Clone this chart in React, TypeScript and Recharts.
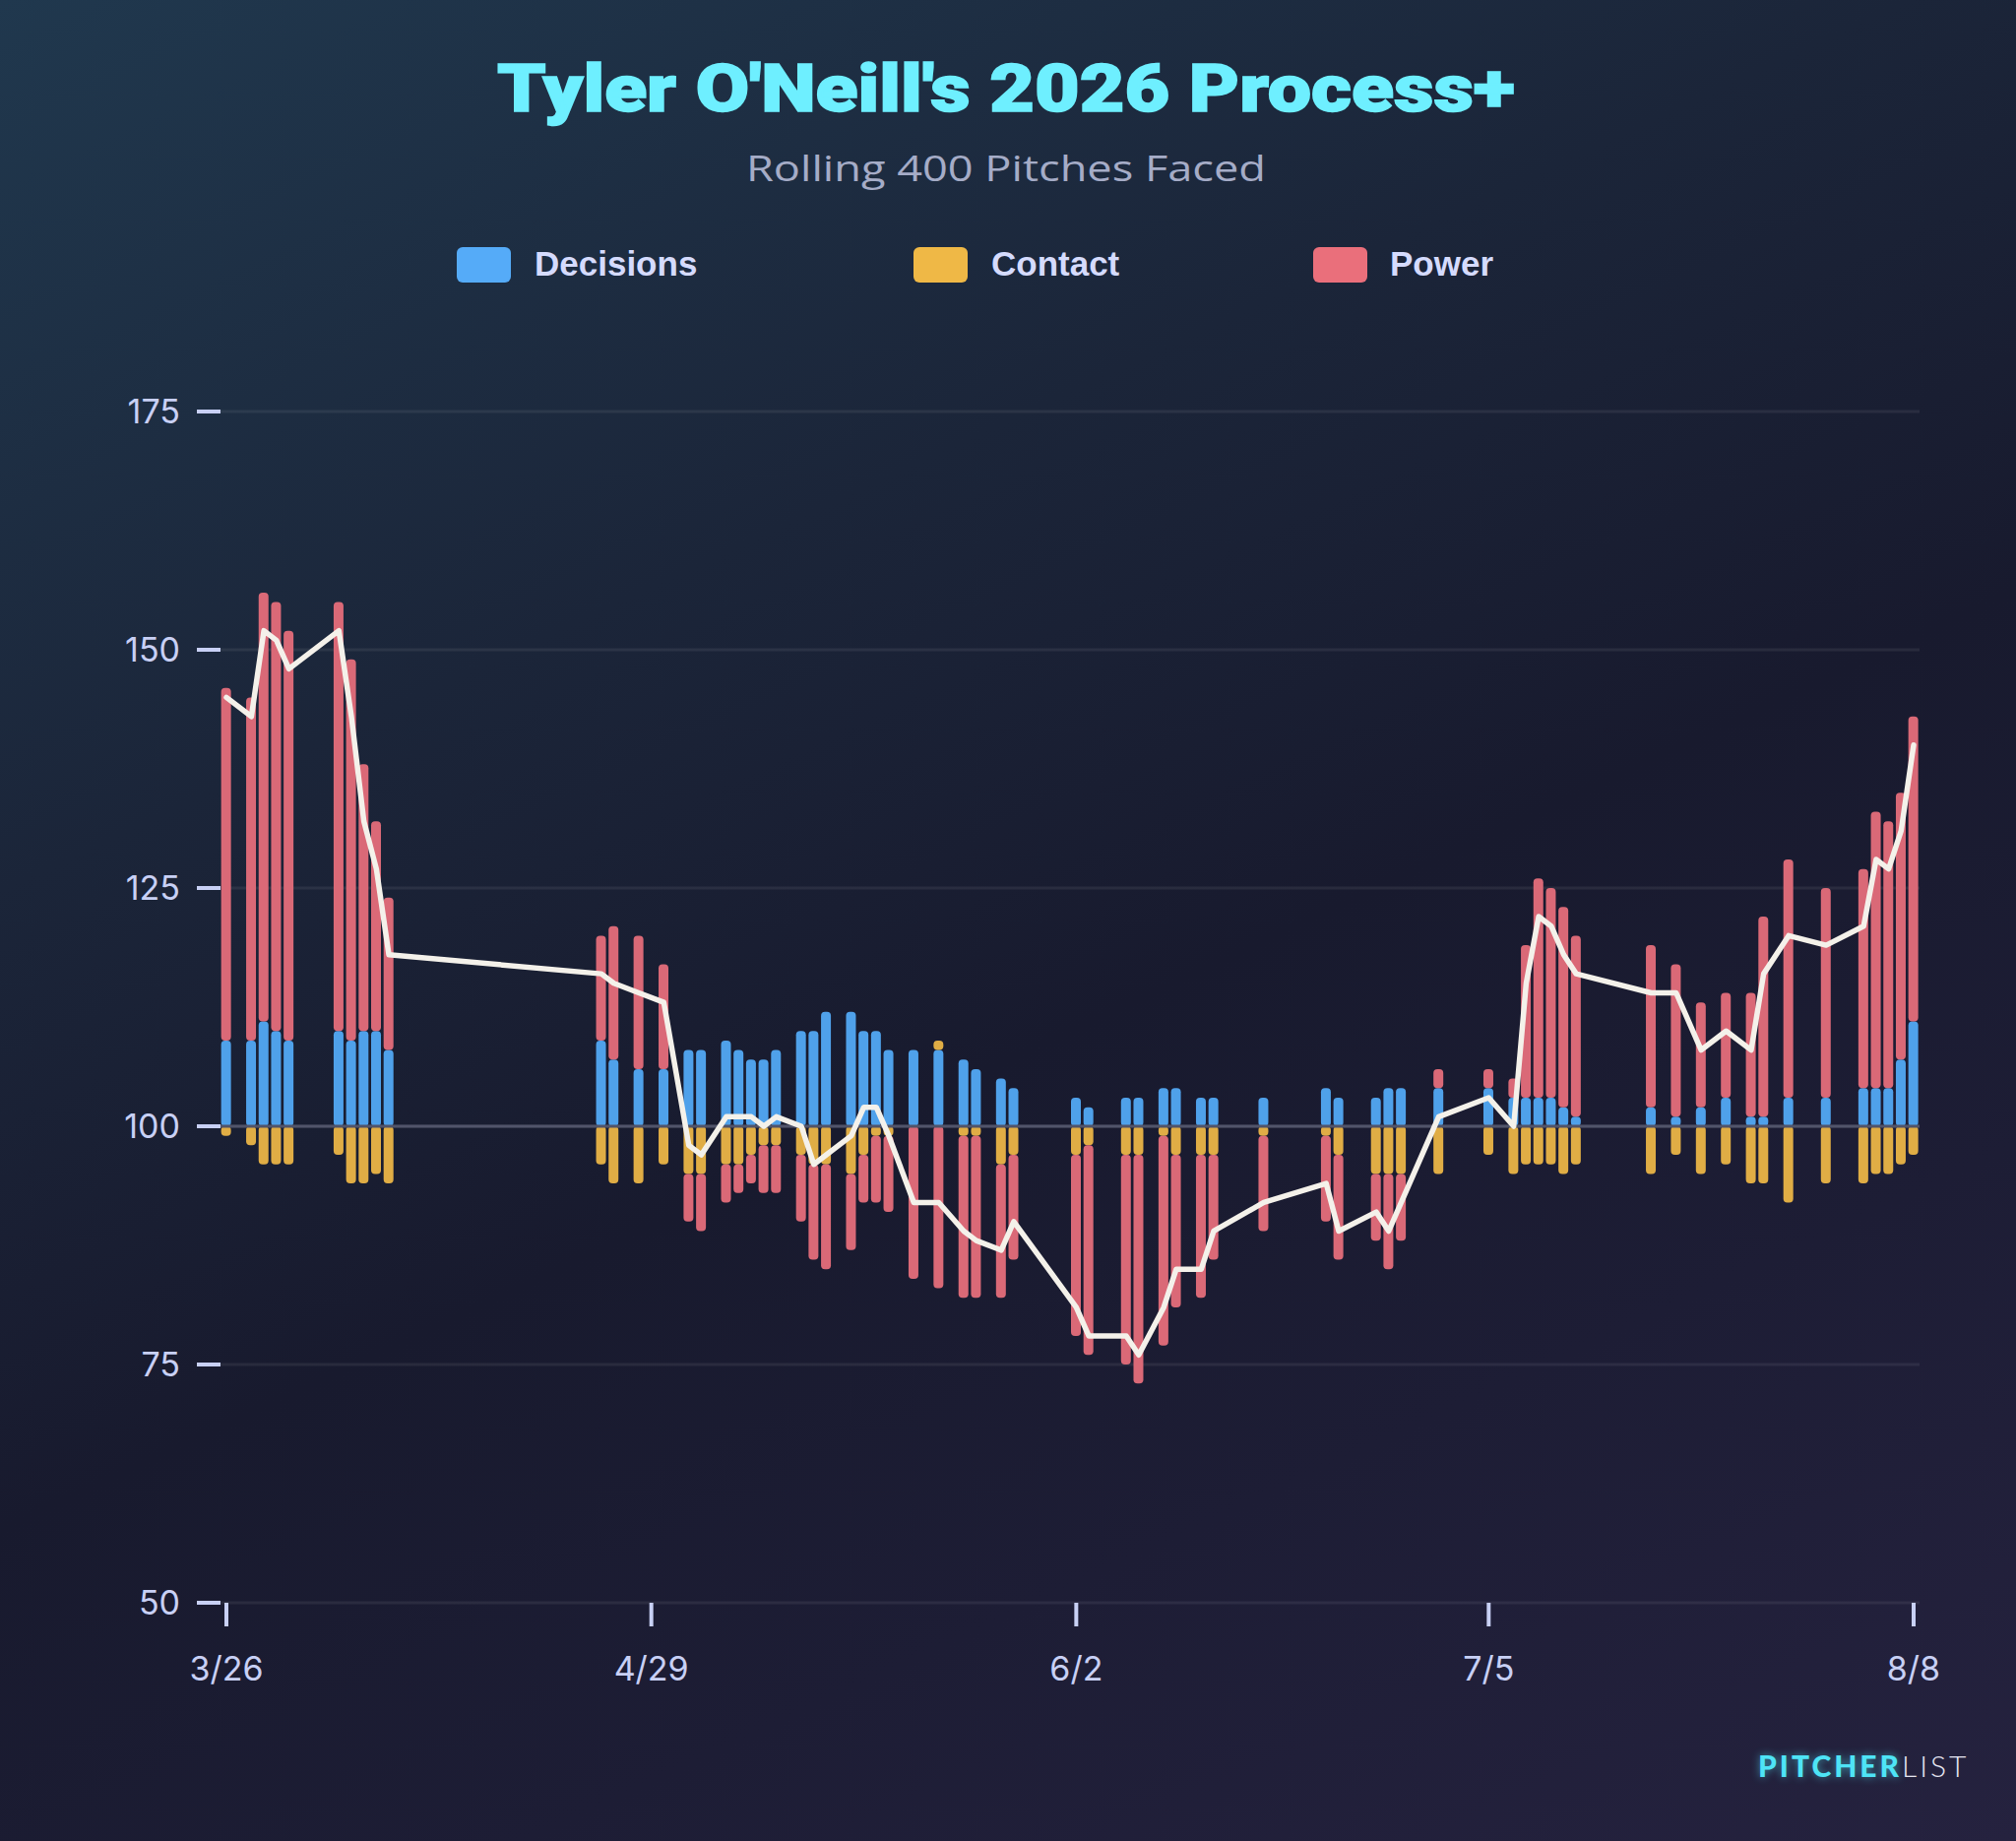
import React from 'react'
import { ComposedChart, Bar, Line, XAxis, YAxis, CartesianGrid, ReferenceLine } from 'recharts'

// days since 3/26
const days = [
  0, 2, 3, 4, 5, 9, 10, 11, 12, 13,
  30, 31, 33, 35, 37, 38, 40, 41, 42, 43, 44, 46, 47, 48, 50, 51, 52, 53,
  55, 57, 59, 60, 62, 63, 68, 69, 72, 73, 75, 76, 78, 79,
  83, 88, 89, 92, 93, 94, 97, 101, 103, 104, 105, 106, 107, 108,
  114, 116, 118, 120, 122, 123, 125, 128, 131, 132, 133, 134, 135,
]

// contributions relative to 100
const decisions = [
  9, 9, 11, 10, 9, 10, 9, 10, 10, 8,
  9, 7, 6, 6, 8, 8, 9, 8, 7, 7, 8, 10, 10, 12, 12, 10, 10, 8,
  8, 8, 7, 6, 5, 4, 3, 2, 3, 3, 4, 4, 3, 3,
  3, 4, 3, 3, 4, 4, 4, 4, 3, 3, 3, 3, 2, 1,
  2, 1, 2, 3, 1, 1, 3, 3, 4, 4, 4, 7, 11,
]

const contact = [
  -1, -2, -4, -4, -4, -3, -6, -6, -5, -6,
  -4, -6, -6, -4, -5, -5, -4, -4, -3, -2, -2, -3, -4, -4, -5, -3, -1, -1,
  0, 1, -1, -1, -4, -3, -3, -2, -3, -3, -1, -3, -3, -3,
  -1, -1, -3, -5, -5, -5, -5, -3, -5, -4, -4, -4, -5, -4,
  -5, -3, -5, -4, -6, -6, -8, -6, -6, -5, -5, -4, -3,
]

const power = [
  37, 36, 45, 45, 43, 45, 40, 28, 22, 16,
  11, 14, 14, 11, -5, -6, -4, -3, -3, -5, -5, -7, -10, -11, -8, -5, -7, -8,
  -16, -17, -17, -17, -14, -11, -19, -22, -22, -24, -22, -16, -15, -11,
  -10, -9, -11, -7, -10, -7, 2, 2, 2, 16, 23, 22, 21, 19,
  17, 16, 11, 11, 13, 21, 25, 22, 23, 29, 28, 28, 32,
]

const processPlus = [
  145, 143, 152, 151, 148, 152, 143, 132, 127, 118,
  116, 115, 114, 113, 98, 97, 101, 101, 101, 100, 101, 100, 96, 97, 99, 102, 102, 99,
  92, 92, 89, 88, 87, 90, 81, 78, 78, 76, 81, 85, 85, 89,
  92, 94, 89, 91, 89, 92, 101, 103, 100, 115, 122, 121, 118, 116,
  114, 114, 108, 110, 108, 116, 120, 119, 121, 128, 127, 131, 140,
]

const tickDays = [0, 34, 68, 101, 135]
const tickLabels = ['3/26', '4/29', '6/2', '7/5', '8/8']
const yTicks = [50, 75, 100, 125, 150, 175]

const legendItems = [
  { name: 'Decisions', color: '#55abf8', x: 464, tx: 543 },
  { name: 'Contact', color: '#efb846', x: 928, tx: 1007 },
  { name: 'Power', color: '#ea6f7b', x: 1334, tx: 1412 },
]

const data = days.map((d, i) => ({
  day: d,
  decisions: decisions[i],
  contact: contact[i],
  power: power[i],
  process: processPlus[i] - 100,
}))

const axisText = { fill: '#c8d0f5', fontSize: 34, fontFamily: 'Inter, sans-serif' }

export default function App() {
  return (
    <div
      style={{
        position: 'absolute',
        left: 0,
        top: 0,
        width: 2048,
        height: 1870,
        overflow: 'hidden',
        background: 'linear-gradient(155deg, #20384e 0%, #1b2539 32%, #181a2e 55%, #1d1d35 75%, #25223f 100%)',
      }}
    >
      <ComposedChart
        width={2048}
        height={1870}
        data={data}
        stackOffset="sign"
        margin={{ top: 418, right: 98, bottom: 182, left: 0 }}
      >
        <CartesianGrid vertical={false} stroke="rgba(255,255,255,0.07)" strokeWidth={3} />
        <XAxis
          type="number"
          dataKey="day"
          domain={[0, 135]}
          ticks={tickDays}
          tickFormatter={(v) => tickLabels[tickDays.indexOf(v)] ?? ''}
          axisLine={false}
          tickLine={{ stroke: '#c8d0f5', strokeWidth: 4 }}
          tickSize={24}
          tickMargin={31}
          height={60}
          padding={{ left: 6, right: 6 }}
          tick={axisText}
          interval={0}
        />
        <YAxis
          type="number"
          domain={[-50, 75]}
          ticks={yTicks.map((t) => t - 100)}
          tickFormatter={(v) => String(v + 100)}
          axisLine={false}
          tickLine={{ stroke: '#c8d0f5', strokeWidth: 4 }}
          tickSize={24}
          tickMargin={17}
          width={224}
          tick={axisText}
          interval={0}
        />
        <ReferenceLine y={0} stroke="#51546a" strokeWidth={3} />
        <Bar dataKey="decisions" stackId="a" fill="#4fa1ea" barSize={10} radius={4} isAnimationActive={false} />
        <Bar dataKey="contact" stackId="a" fill="#e0ad45" barSize={10} radius={4} isAnimationActive={false} />
        <Bar dataKey="power" stackId="a" fill="#da6977" barSize={10} radius={4} isAnimationActive={false} />
        <Line
          type="linear"
          dataKey="process"
          stroke="#f4f1ea"
          strokeWidth={5.5}
          strokeLinejoin="round"
          strokeLinecap="round"
          dot={false}
          activeDot={false}
          isAnimationActive={false}
        />
      </ComposedChart>

      <svg
        width={2048}
        height={1870}
        style={{ position: 'absolute', left: 0, top: 0, pointerEvents: 'none' }}
      >
        <defs>
          <filter id="glow" x="-20%" y="-50%" width="140%" height="200%">
            <feGaussianBlur stdDeviation="4" />
          </filter>
        </defs>
        <text
          x={1022}
          y={113}
          textAnchor="middle"
          fill="#6eefff"
          stroke="#6eefff"
          strokeWidth={1.5}
          fontSize={66}
          fontWeight={900}
          fontFamily="Roboto, 'Liberation Sans', sans-serif"
          textLength={1034}
          lengthAdjust="spacingAndGlyphs"
        >
          Tyler O'Neill's 2026 Process+
        </text>
        <text
          x={1022}
          y={184}
          textAnchor="middle"
          fill="#a5acc7"
          fontSize={37}
          fontFamily="'Open Sans', sans-serif"
          textLength={528}
          lengthAdjust="spacingAndGlyphs"
        >
          Rolling 400 Pitches Faced
        </text>
        {legendItems.map((it) => (
          <g key={it.name}>
            <rect x={it.x} y={251} width={55} height={36} rx={6} fill={it.color} />
            <text
              x={it.tx}
              y={280}
              fill="#d5dbfd"
              fontSize={35}
              fontWeight={700}
              fontFamily="'Liberation Sans', Arial, sans-serif"
            >
              {it.name}
            </text>
          </g>
        ))}
        <text
          x={1786}
          y={1805}
          fill="#4ee4f6"
          fontSize={30}
          fontWeight={900}
          letterSpacing={3}
          fontFamily="Lato, sans-serif"
          filter="url(#glow)"
          opacity={0.6}
        >
          PITCHER
        </text>
        <text x={1786} y={1805} fontSize={30} letterSpacing={3} fontFamily="Lato, sans-serif">
          <tspan fill="#4ee4f6" fontWeight={900}>PITCHER</tspan>
          <tspan fill="#e6e6f2" fontWeight={300}>LIST</tspan>
        </text>
      </svg>
    </div>
  )
}
